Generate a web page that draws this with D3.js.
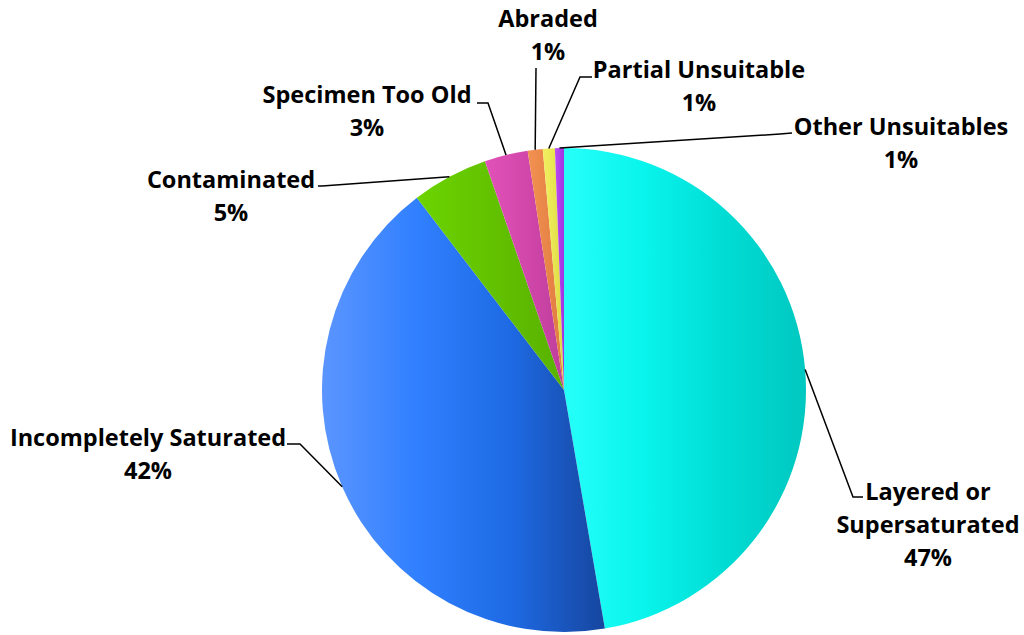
<!DOCTYPE html>
<html><head><meta charset="utf-8">
<script src="https://cdn.jsdelivr.net/npm/d3@7"></script>
<style>
html,body{margin:0;padding:0;background:#fff;}
text{font-family:"Open Sans",Lato,sans-serif;font-weight:bold;fill:#000;}
</style></head>
<body><svg id="c" width="1024" height="635"></svg>
<script>
const categories = ["Layered or Supersaturated","Incompletely Saturated","Contaminated","Specimen Too Old","Abraded","Partial Unsuitable","Other Unsuitables"];
const values = [47.3, 42.3, 5.1, 2.9, 1.0, 0.8, 0.6];
const percentLabels = ["47%","42%","5%","3%","1%","1%","1%"];
const gradientStops = [
  ["#26fffa","#08f4ec","#00dcd4","#00c8c0"],
  ["#5b95ff","#3180ff","#1e6ae4","#16469f"],
  ["#6cd400","#66c800","#5fbc00","#58b200"],
  ["#e252ba","#d84bb0","#cc44a6","#bd3f9a"],
  ["#f29252","#ec8a4c","#e68246","#e07a40"],
  ["#f2f062","#ecea58","#e4e24c","#dcd840"],
  ["#bb4cf8","#b344f0","#aa3ce8","#a036e0"]
];

const cx=564, cy=390, R=242;
const labelLayout = [
  {x:928, y:500, lines:["Layered or","Supersaturated"], elbow:[853,497], end:[863,497]},
  {x:148, y:446, lines:["Incompletely Saturated"], elbow:[300,444], end:[287,444]},
  {x:231, y:188, lines:["Contaminated"], elbow:[322,186], end:[318,186]},
  {x:367, y:103, lines:["Specimen Too Old"], elbow:[488,103], end:[477,103]},
  {x:548, y:27,  lines:["Abraded"], elbow:[536,68], end:[536,68]},
  {x:699, y:78,  lines:["Partial Unsuitable"], elbow:[580,77], end:[592,77]},
  {x:901, y:135, lines:["Other Unsuitables"], elbow:[780,134], end:[792,133]}
];
const lineH = 33;

const svg = d3.select("#c");
const defs = svg.append("defs");
categories.forEach((c,i)=>{
  const g = defs.append("linearGradient").attr("id","g"+i).attr("x1","0").attr("x2","1").attr("y1","0").attr("y2","0");
  gradientStops[i].forEach((col,k,arr)=>{
    g.append("stop").attr("offset",k/(arr.length-1)).attr("stop-color",col);
  });
});

const pie = d3.pie().sort(null).value(d=>d.v);
const data = pie(categories.map((c,i)=>({c, v:values[i], i})));
const arc = d3.arc().innerRadius(0).outerRadius(R);
const gPie = svg.append("g").attr("transform",`translate(${cx},${cy})`);
gPie.selectAll("path").data(data).join("path")
  .attr("d",arc).attr("fill",d=>`url(#g${d.data.i})`);

data.forEach((d,i)=>{
  const a = (d.startAngle+d.endAngle)/2;
  const sx = cx + R*Math.sin(a), sy = cy - R*Math.cos(a);
  const L = labelLayout[i];
  svg.append("polyline")
    .attr("points",[[sx,sy],L.elbow,L.end].map(p=>p.join(",")).join(" "))
    .attr("fill","none").attr("stroke","#000").attr("stroke-width",1.5);
  const t = svg.append("text").attr("text-anchor","middle").attr("font-size",23.5);
  const lines = L.lines.concat([percentLabels[i]]);
  lines.forEach((s,k)=>{
    t.append("tspan").attr("x",L.x).attr("y",L.y+k*lineH).text(s);
  });
});
</script></body></html>
